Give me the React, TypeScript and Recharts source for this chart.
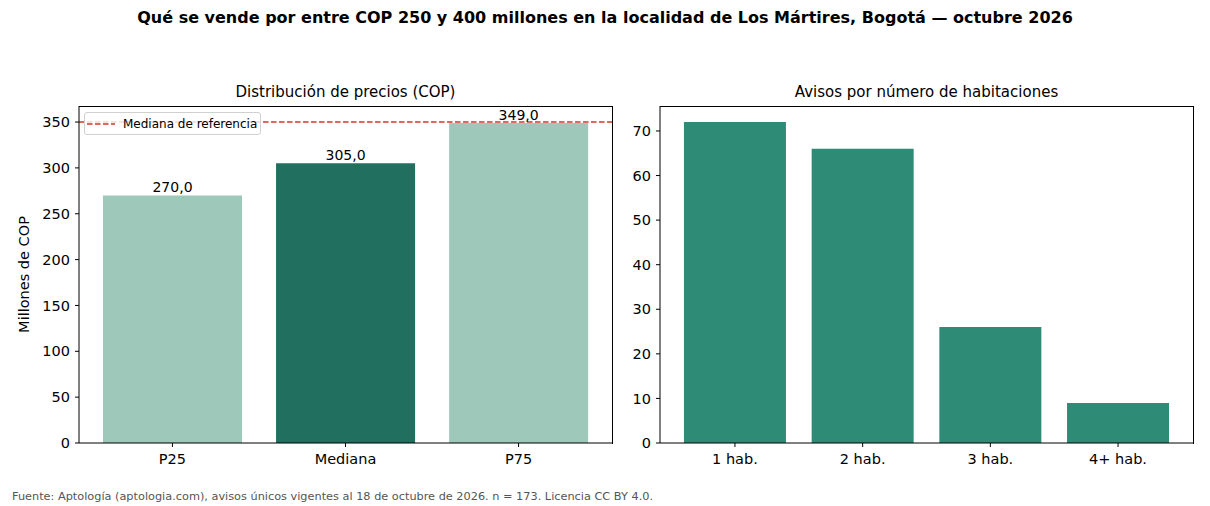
import React from "react";
import {
  BarChart,
  Bar,
  XAxis,
  YAxis,
  ReferenceLine,
  LabelList,
  Cell,
} from "recharts";

const priceCategories = ["P25", "Mediana", "P75"];
const priceValues = [270.0, 305.0, 349.0];
const referenceMedian = 350;
const priceTicks = [0, 50, 100, 150, 200, 250, 300, 350];

const roomCategories = ["1 hab.", "2 hab.", "3 hab.", "4+ hab."];
const roomCounts = [72, 66, 26, 9];
const roomTicks = [0, 10, 20, 30, 40, 50, 60, 70];

const priceData = priceCategories.map((c, i) => ({ name: c, value: priceValues[i] }));
const roomData = roomCategories.map((c, i) => ({ name: c, value: roomCounts[i] }));

const FONT = "'DejaVu Sans', sans-serif";
const LIGHT = "#9ec8ba";
const DARK = "#206f5f";
const MID = "#2e8b76";
const RED = "#d0392b";

const tickStyle = { fontSize: 14.5, fill: "#000", fontFamily: FONT };

const fmt = (v: number) => v.toFixed(1).replace(".", ",");

const frame = (left: number) => ({
  position: "absolute" as const,
  left,
  top: 106,
  width: 534,
  height: 338,
  boxSizing: "border-box" as const,
  borderTop: "1px solid #000",
  borderRight: "1px solid #000",
  pointerEvents: "none" as const,
});

export default function App() {
  return (
    <div
      style={{
        position: "absolute",
        left: 0,
        top: 0,
        width: 1210,
        height: 506,
        background: "#fff",
        fontFamily: FONT,
      }}
    >
      <div
        style={{
          position: "absolute",
          left: 0,
          top: 8,
          width: 1210,
          textAlign: "center",
          fontWeight: "bold",
          fontSize: 16,
          color: "#000",
        }}
      >
        Qué se vende por entre COP 250 y 400 millones en la localidad de Los Mártires, Bogotá — octubre 2026
      </div>
      <div
        style={{
          position: "absolute",
          left: 79,
          width: 533,
          top: 83,
          textAlign: "center",
          fontSize: 15,
          color: "#000",
        }}
      >
        Distribución de precios (COP)
      </div>
      <div
        style={{
          position: "absolute",
          left: 660,
          width: 533,
          top: 83,
          textAlign: "center",
          fontSize: 15,
          color: "#000",
        }}
      >
        Avisos por número de habitaciones
      </div>

      <div style={{ position: "absolute", left: 0, top: 0 }}>
        <BarChart
          width={620}
          height={480}
          data={priceData}
          margin={{ top: 106, right: 8, left: 19, bottom: 7 }}
          barCategoryGap={17.1}
        >
          <XAxis
            dataKey="name"
            tick={tickStyle}
            tickSize={4}
            tickMargin={7}
            height={30}
            padding={{ left: 6.9, right: 6.9 }}
            stroke="#000"
            tickLine={{ stroke: "#000" }}
            axisLine={{ stroke: "#000" }}
          />
          <YAxis
            domain={[0, 367.5]}
            ticks={priceTicks}
            allowDataOverflow
            tick={tickStyle}
            tickSize={4}
            tickMargin={5}
            width={60}
            stroke="#000"
            axisLine={{ stroke: "#000" }}
            tickLine={{ stroke: "#000" }}
            label={{
              value: "Millones de COP",
              angle: -90,
              position: "insideLeft",
              offset: 5,
              textAnchor: "middle",
              style: { fontSize: 14.5, fill: "#000", fontFamily: FONT },
            }}
          />
          <Bar dataKey="value" isAnimationActive={false}>
            {priceData.map((d, i) => (
              <Cell key={d.name} fill={i === 1 ? DARK : LIGHT} />
            ))}
            <LabelList
              dataKey="value"
              position="top"
              offset={3}
              formatter={(v: any) => fmt(Number(v))}
              style={{ fontSize: 14, fill: "#000", fontFamily: FONT }}
            />
          </Bar>
          <ReferenceLine
            y={referenceMedian}
            stroke={RED}
            strokeWidth={1.5}
            strokeDasharray="5.5 2.5"
          />
        </BarChart>
      </div>
      <div style={frame(79)} />

      <div
        style={{
          position: "absolute",
          left: 84,
          top: 112,
          width: 177,
          height: 23,
          boxSizing: "border-box",
          border: "1px solid #d0d0d0",
          borderRadius: 3,
          background: "rgba(255,255,255,0.8)",
          display: "flex",
          alignItems: "center",
          fontSize: 12,
          color: "#000",
        }}
      >
        <svg width={38} height={10} style={{ marginLeft: 0 }}>
          <line x1={2} y1={5} x2={30} y2={5} stroke={RED} strokeWidth={1.5} strokeDasharray="5.5 2.5" />
        </svg>
        <span>Mediana de referencia</span>
      </div>

      <div style={{ position: "absolute", left: 620, top: 0 }}>
        <BarChart
          width={580}
          height={480}
          data={roomData}
          margin={{ top: 106, right: 7, left: 10, bottom: 7 }}
          barCategoryGap={12.85}
        >
          <XAxis
            dataKey="name"
            tick={tickStyle}
            tickSize={4}
            tickMargin={7}
            height={30}
            padding={{ left: 11.1, right: 11.1 }}
            stroke="#000"
            tickLine={{ stroke: "#000" }}
            axisLine={{ stroke: "#000" }}
          />
          <YAxis
            domain={[0, 75.6]}
            ticks={roomTicks}
            allowDataOverflow
            tick={tickStyle}
            tickSize={4}
            tickMargin={5}
            width={30}
            stroke="#000"
            axisLine={{ stroke: "#000" }}
            tickLine={{ stroke: "#000" }}
          />
          <Bar dataKey="value" fill={MID} isAnimationActive={false} />
        </BarChart>
      </div>
      <div style={frame(660)} />

      <div
        style={{
          position: "absolute",
          left: 12,
          top: 490,
          fontSize: 11.3,
          color: "#555",
          whiteSpace: "nowrap",
        }}
      >
        Fuente: Aptología (aptologia.com), avisos únicos vigentes al 18 de octubre de 2026. n = 173. Licencia CC BY 4.0.
      </div>
    </div>
  );
}
